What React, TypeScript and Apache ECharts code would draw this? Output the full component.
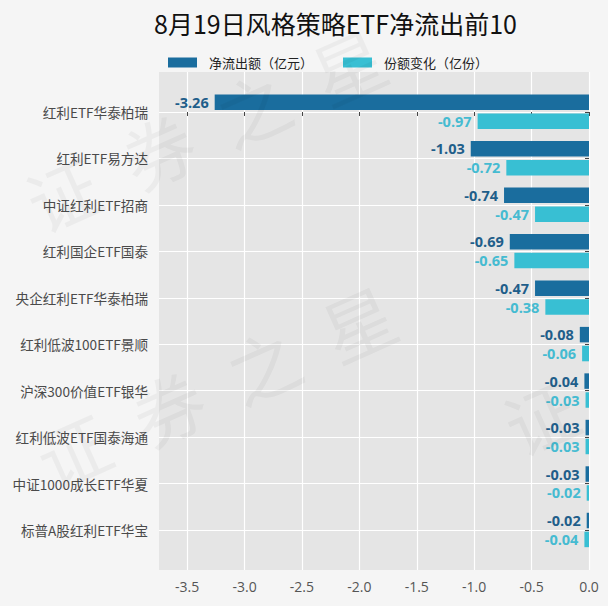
import React, { useEffect, useRef } from "react";
import * as echarts from "echarts";

const categories = [
  "红利ETF华泰柏瑞",
  "红利ETF易方达",
  "中证红利ETF招商",
  "红利国企ETF国泰",
  "央企红利ETF华泰柏瑞",
  "红利低波100ETF景顺",
  "沪深300价值ETF银华",
  "红利低波ETF国泰海通",
  "中证1000成长ETF华夏",
  "标普A股红利ETF华宝",
];
const netOutflow = [-3.26, -1.03, -0.74, -0.69, -0.47, -0.08, -0.04, -0.03, -0.03, -0.02];
const shareChange = [-0.97, -0.72, -0.47, -0.65, -0.38, -0.06, -0.03, -0.03, -0.02, -0.04];
const xTicks = [-3.5, -3.0, -2.5, -2.0, -1.5, -1.0, -0.5, 0.0];
const catIndex = categories.map((_, i) => i);
const seriesNames = ["净流出额（亿元）", "份额变化（亿份）"];
const titleText = "8月19日风格策略ETF净流出前10";
const watermark = "证  券  之  星";
const watermarkPart = "证";

const FONT = "'Noto Sans CJK SC', 'Noto Sans', sans-serif";
const NUMFONT = "'Open Sans', 'Noto Sans', sans-serif";
const XMIN = -3.745;

export default function App() {
  const ref = useRef<HTMLDivElement>(null);
  useEffect(() => {
    if (!ref.current) return;
    const chart = echarts.init(ref.current, null, { renderer: "svg" });
    const wmBase = {
      fontSize: 72,
      fontFamily: FONT,
      fill: "rgba(0,0,0,0.04)",
      align: "center",
      verticalAlign: "middle",
    };
    chart.setOption({
      animation: false,
      backgroundColor: "#f5f5f5",
      title: {
        text: titleText,
        left: 149,
        top: 5,
        textStyle: { fontSize: 25, fontWeight: "normal", color: "#111", fontFamily: FONT },
      },
      legend: {
        left: 163,
        top: 51,
        itemWidth: 29,
        itemHeight: 10,
        itemGap: 30,
        icon: "rect",
        textStyle: { fontSize: 13, color: "#222", fontFamily: FONT, padding: [0, 0, 0, 7] },
        data: seriesNames,
      },
      graphic: [
        { type: "text", x: 205, y: 128, rotation: 0.42, z: 100, silent: true, style: { ...wmBase, text: watermark } },
        { type: "text", x: 215, y: 385, rotation: 0.42, z: 100, silent: true, style: { ...wmBase, text: watermark } },
        { type: "text", x: 540, y: 415, rotation: 0.42, z: 100, silent: true, style: { ...wmBase, text: watermarkPart } },
      ],
      grid: [
        {
          left: 159,
          right: 19,
          top: 72,
          bottom: 36,
          show: true,
          backgroundColor: "#e5e5e5",
          borderWidth: 0,
        },
        { left: 159, right: 19, top: 88.5, bottom: 52.8 },
      ],
      xAxis: [
        {
          type: "value",
          gridIndex: 0,
          min: XMIN,
          max: 0,
          axisLine: { show: false },
          axisTick: { show: true, length: 4, lineStyle: { color: "#444" }, customValues: xTicks },
          axisLabel: {
            customValues: xTicks,
            formatter: (v: number) => v.toFixed(1),
            color: "#555",
            fontSize: 14,
            fontFamily: NUMFONT,
            margin: 9,
          },
          splitLine: { show: true, lineStyle: { color: "#ffffff", width: 1.2 } },
        },
        {
          type: "value",
          gridIndex: 1,
          min: XMIN,
          max: 0,
          show: false,
          splitLine: { show: false },
        },
      ],
      yAxis: [
        {
          type: "value",
          gridIndex: 0,
          inverse: true,
          min: -0.861,
          max: 9.861,
          axisLine: { show: false },
          axisTick: { show: true, length: 4, lineStyle: { color: "#444" }, customValues: catIndex },
          axisLabel: {
            customValues: catIndex,
            formatter: (v: number) => categories[Math.round(v)],
            color: "#4a4a4a",
            fontSize: 13.6,
            fontFamily: FONT,
            margin: 11,
          },
          splitLine: { show: true, lineStyle: { color: "#ffffff", width: 1.2 } },
        },
        {
          type: "category",
          gridIndex: 1,
          inverse: true,
          data: categories,
          show: false,
          splitLine: { show: false },
        },
      ],
      series: [
        {
          name: seriesNames[0],
          type: "bar",
          xAxisIndex: 1,
          yAxisIndex: 1,
          data: netOutflow,
          barWidth: 15.5,
          barGap: "22%",
          itemStyle: { color: "#1a6d9e" },
          label: {
            show: true,
            position: "left",
            distance: 6,
            formatter: (p: any) => Number(p.value).toFixed(2),
            color: "#1f5e8a",
            fontWeight: "bold",
            fontSize: 14.5,
            fontFamily: NUMFONT,
          },
        },
        {
          name: seriesNames[1],
          type: "bar",
          xAxisIndex: 1,
          yAxisIndex: 1,
          data: shareChange,
          barWidth: 15.5,
          barGap: "22%",
          itemStyle: { color: "#38bfd3" },
          label: {
            show: true,
            position: "left",
            distance: 6,
            formatter: (p: any) => Number(p.value).toFixed(2),
            color: "#45bbd1",
            fontWeight: "bold",
            fontSize: 14.5,
            fontFamily: NUMFONT,
          },
        },
      ],
    });
    return () => chart.dispose();
  }, []);
  return (
    <div
      ref={ref}
      style={{ position: "fixed", left: 0, top: 0, width: 608, height: 606 }}
    />
  );
}
